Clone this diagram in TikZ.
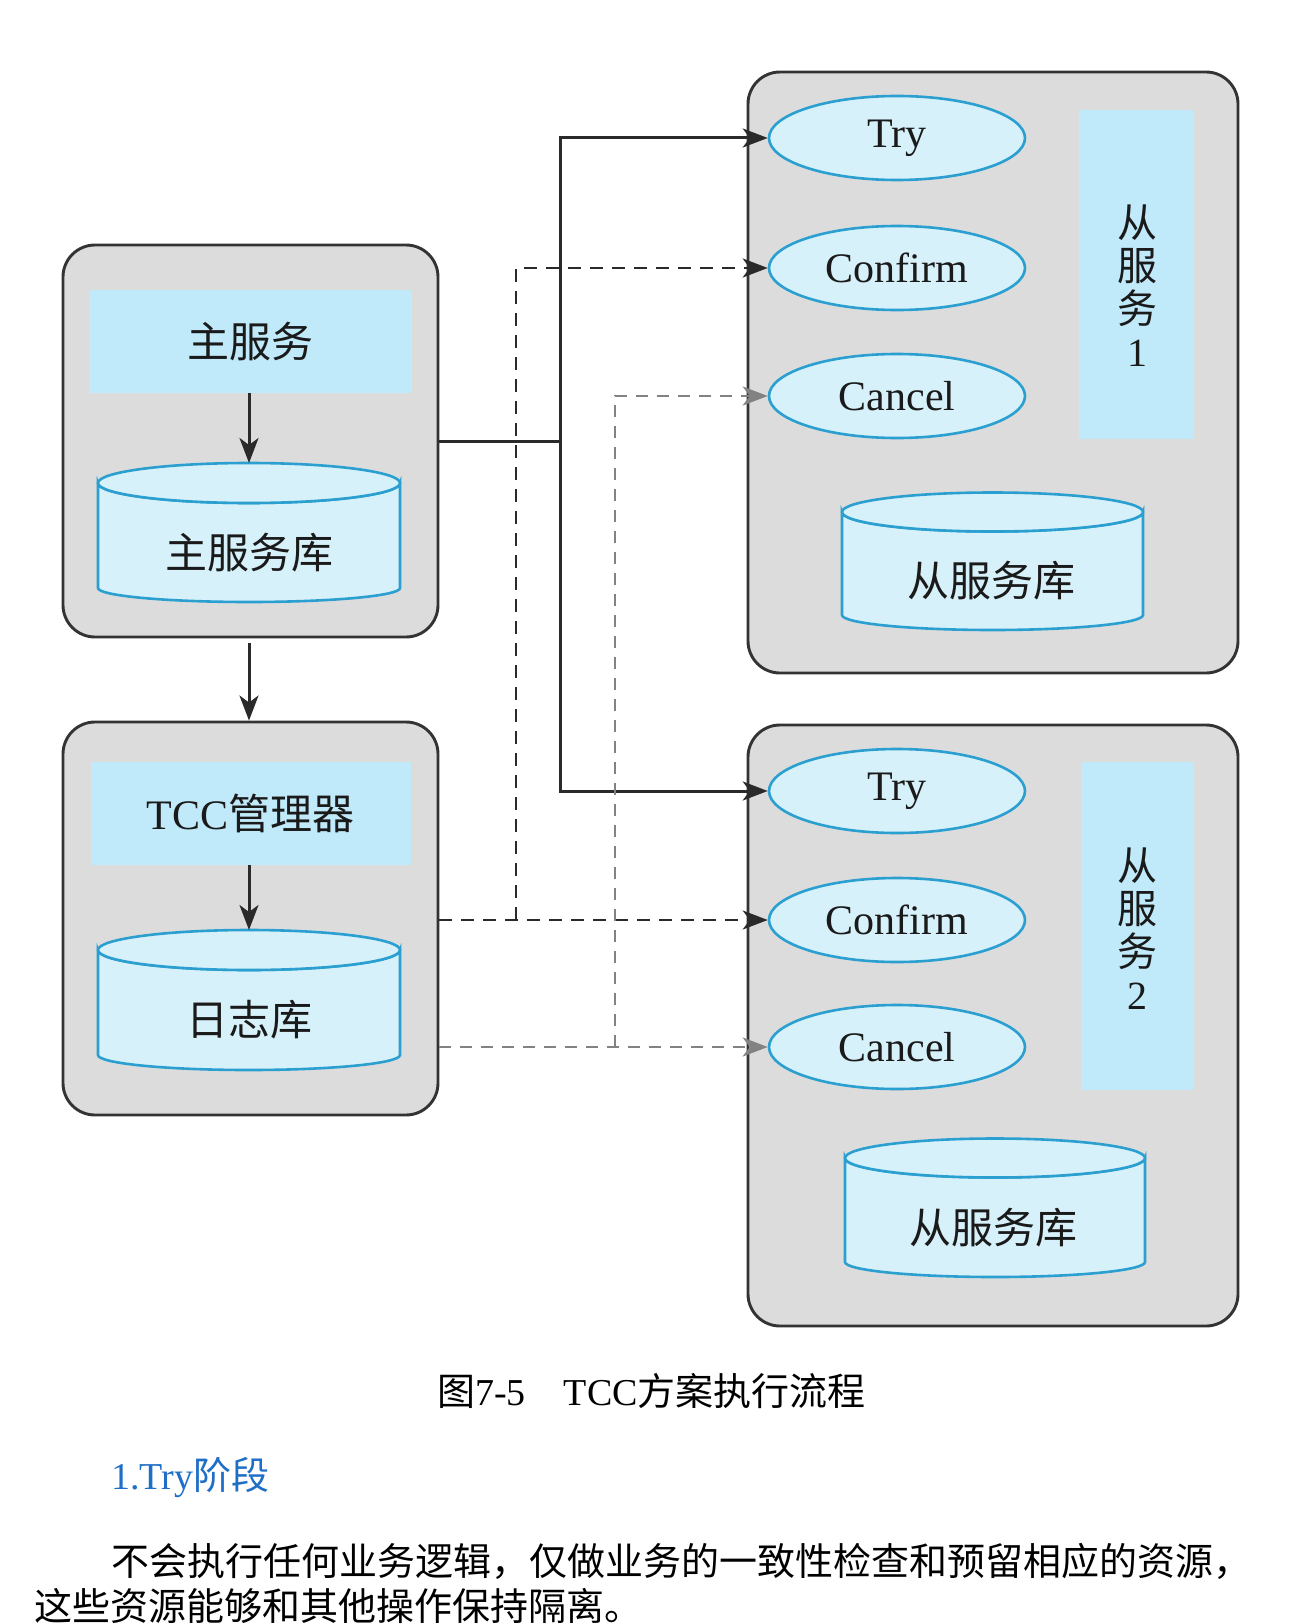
\documentclass[tikz,border=0pt]{standalone}
\usepackage{fontspec}
\setmainfont{Liberation Serif}
\newfontfamily\cjk{Noto Sans CJK SC}
\usetikzlibrary{shapes.geometric,arrows.meta}
\definecolor{boxfill}{HTML}{DCDCDC}
\definecolor{boxline}{HTML}{333333}
\definecolor{lblue}{HTML}{C0E9F9}
\definecolor{efill}{HTML}{D6F1FA}
\definecolor{eline}{HTML}{2A9FD0}
\definecolor{txt}{HTML}{1A1A1A}
\definecolor{dgray}{HTML}{2A2A2A}
\definecolor{mgray}{HTML}{828282}
\definecolor{headblue}{HTML}{1F6FC6}
\begin{document}
\begin{tikzpicture}[x=1pt,y=-1pt,
  outerbox/.style={draw=boxline, fill=boxfill, line width=2.9pt, rounded corners=32pt, inner sep=0pt},
  lbl/.style={text=txt, inner sep=0pt, font=\fontsize{42}{48}\selectfont\cjk},
  bluebox/.style={lbl, fill=lblue},
  opnode/.style={ellipse, draw=eline, fill=efill, line width=2.6pt, minimum width=256pt, minimum height=84pt, inner sep=0pt, text=txt, font=\fontsize{42}{48}\selectfont},
  dbbody/.style={draw=eline, fill=efill, line width=2.6pt},
  arrowtip/.style={-{Stealth[length=25pt,width=19pt,inset=7pt]}},
  solidline/.style={draw=dgray, line width=3pt},
  darkdash/.style={draw=dgray, line width=2.8pt, dash pattern=on 13pt off 9pt},
  graydash/.style={draw=mgray, line width=2.8pt, dash pattern=on 12pt off 9pt},
  vtext/.style={text=txt, inner sep=0pt, align=center, font=\fontsize{40}{43}\selectfont\cjk},
  plaintext/.style={inner sep=0pt, text=black, font=\fontsize{38}{44}\selectfont},
]
\useasboundingbox (0,0) rectangle (1301,1624);

% outer boxes
\node[outerbox, minimum width=375pt, minimum height=392pt] (mainbox) at (250.5,441) {};
\node[outerbox, minimum width=375pt, minimum height=393pt] (tccbox) at (250.5,918.5) {};
\node[outerbox, minimum width=490pt, minimum height=601pt] (slavebox1) at (993,372.5) {};
\node[outerbox, minimum width=490pt, minimum height=601pt] (slavebox2) at (993,1025.5) {};

% blue label boxes
\node[bluebox, minimum width=323pt, minimum height=103pt] (mainsvc) at (250.5,341.5) {主服务};
\node[bluebox, minimum width=320pt, minimum height=103pt] (tccsvc) at (250.5,813.5) {{\rmfamily TCC}管理器};
\node[fill=lblue, inner sep=0pt, minimum width=115pt, minimum height=329pt] (s1rect) at (1136.5,274.5) {};
\node[fill=lblue, inner sep=0pt, minimum width=113pt, minimum height=328pt] (s2rect) at (1137.5,926) {};
\node[vtext] (s1text) at (1137,286) {从\\服\\务\\{\rmfamily 1}};
\node[vtext] (s2text) at (1137,929) {从\\服\\务\\{\rmfamily 2}};

% cylinders
\path[dbbody] (98,483) -- (98,588) arc[start angle=180,end angle=0,x radius=151,y radius=14] -- (400,483) arc[start angle=0,end angle=180,x radius=151,y radius=20] -- cycle;
\path[dbbody] (249,483) ellipse[x radius=151,y radius=20];
\node[lbl] (maindb) at (249,553) {主服务库};
\coordinate (maindbtop) at (249,463);

\path[dbbody] (98,950) -- (98,1055) arc[start angle=180,end angle=0,x radius=151,y radius=15] -- (400,950) arc[start angle=0,end angle=180,x radius=151,y radius=20] -- cycle;
\path[dbbody] (249,950) ellipse[x radius=151,y radius=20];
\node[lbl] (logdb) at (249,1020) {日志库};
\coordinate (logdbtop) at (249,930);

\path[dbbody] (842,512) -- (842,615) arc[start angle=180,end angle=0,x radius=150.5,y radius=15] -- (1143,512) arc[start angle=0,end angle=180,x radius=150.5,y radius=19.5] -- cycle;
\path[dbbody] (992.5,512) ellipse[x radius=150.5,y radius=19.5];
\node[lbl] (slavedb1) at (991,581) {从服务库};

\path[dbbody] (845,1158) -- (845,1262) arc[start angle=180,end angle=0,x radius=150,y radius=15] -- (1145,1158) arc[start angle=0,end angle=180,x radius=150,y radius=19.5] -- cycle;
\path[dbbody] (995,1158) ellipse[x radius=150,y radius=19.5];
\node[lbl] (slavedb2) at (993,1228) {从服务库};

% operations
\node[opnode] (try1) at (897,138) {Try};
\node[opnode] (confirm1) at (897,268) {Confirm};
\node[opnode] (cancel1) at (897,396) {Cancel};
\node[opnode] (try2) at (897,791) {Try};
\node[opnode] (confirm2) at (897,920) {Confirm};
\node[opnode] (cancel2) at (897,1047) {Cancel};

% inner arrows
\draw[solidline, arrowtip] (maindbtop |- mainsvc.south) -- (maindbtop);
\draw[solidline, arrowtip] (logdbtop |- tccsvc.south) -- (logdbtop);
\draw[solidline, arrowtip, shorten <=5pt] (maindbtop |- mainbox.south) -- (maindbtop |- tccbox.north);

% try connectors
\coordinate (sj) at (560,441);
\draw[solidline] (mainbox.east) -- (sj);
\draw[solidline, arrowtip] (sj) |- (try1.west);
\draw[solidline, arrowtip] (sj) |- (try2.west);

% confirm connectors
\coordinate (dj) at (516,920);
\draw[darkdash, arrowtip] (tccbox.east |- confirm2.west) -- (confirm2.west);
\draw[darkdash, arrowtip] (dj) |- (confirm1.west);

% cancel connectors
\coordinate (gj) at (615,1047);
\draw[graydash, arrowtip] (tccbox.east |- cancel2.west) -- (cancel2.west);
\draw[graydash, arrowtip] (gj) |- (cancel1.west);

% caption and text
\node[plaintext] (caption) at (651.5,1391) {{\cjk 图}7-5\hspace{38pt}TCC{\cjk 方案执行流程}};
\node[plaintext, anchor=west, text=headblue] (heading) at (111,1478) {1.Try{\cjk 阶段}};
\node[plaintext, anchor=west] (body1) at (111,1561) {\cjk 不会执行任何业务逻辑，仅做业务的一致性检查和预留相应的资源，};
\node[plaintext, anchor=west] (body2) at (34,1606) {\cjk 这些资源能够和其他操作保持隔离。};
\end{tikzpicture}
\end{document}
